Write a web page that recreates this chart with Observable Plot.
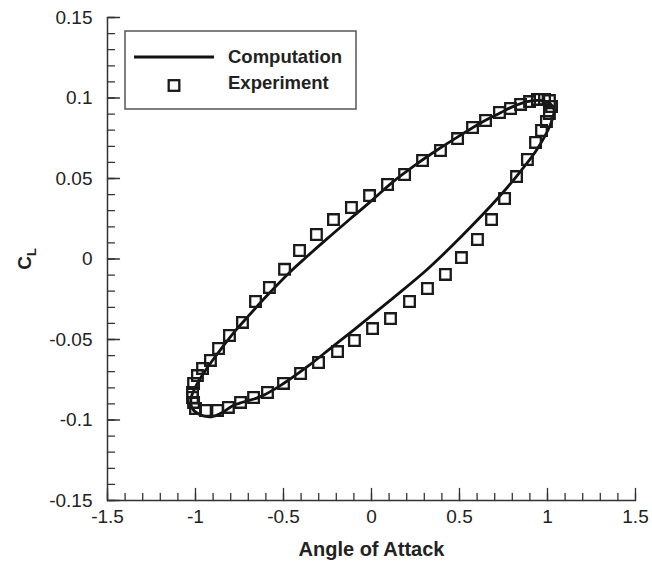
<!DOCTYPE html>
<html><head><meta charset="utf-8">
<script src="https://cdn.jsdelivr.net/npm/d3@7"></script>
<script src="https://cdn.jsdelivr.net/npm/@observablehq/plot@0.6"></script>
<style>html,body{margin:0;padding:0;background:#fff}#chart svg{display:block}</style>
</head><body><div id="chart"></div>
<script>
// Computation loop (angle of attack, C_L), closed
const compAlpha = [1.040, 1.015, 0.960, 0.885, 0.800, 0.733, 0.620, 0.500, 0.373, 0.250, 0.120, 0.004, -0.120, -0.250, -0.370, -0.460, -0.600, -0.700, -0.773, -0.849, -0.910, -0.960, -1.000, -1.025, -1.020, -0.980, -0.910, -0.850, -0.780, -0.630, -0.498, -0.365, -0.233, -0.100, 0.000, 0.108, 0.316, 0.506, 0.724, 0.847, 0.940, 1.017, 1.040];
const compCL    = [0.0920, 0.0965, 0.0985, 0.0977, 0.0945, 0.0908, 0.0845, 0.0765, 0.0677, 0.0585, 0.0478, 0.0366, 0.0250, 0.0128, 0.0012, -0.0078, -0.0235, -0.0355, -0.0445, -0.0550, -0.0640, -0.0720, -0.0795, -0.0865, -0.0925, -0.0965, -0.0980, -0.0955, -0.0907, -0.0855, -0.0772, -0.0669, -0.0555, -0.0440, -0.0352, -0.0255, -0.0065, 0.0135, 0.0385, 0.0545, 0.0680, 0.0835, 0.0920];
// Experiment points
const expAlpha = [1.023, 1.011, 0.983, 0.943, 0.898, 0.847, 0.790, 0.727, 0.648, 0.574, 0.489, 0.392, 0.290, 0.188, 0.091, -0.011, -0.114, -0.216, -0.313, -0.409, -0.494, -0.580, -0.659, -0.733, -0.807, -0.869, -0.915, -0.960, -0.989, -1.011, -1.017, -1.017, -1.011, -1.000, -0.943, -0.875, -0.813, -0.744, -0.670, -0.591, -0.500, -0.403, -0.301, -0.193, -0.097, 0.006, 0.108, 0.216, 0.318, 0.420, 0.511, 0.602, 0.682, 0.756, 0.824, 0.886, 0.932, 0.966, 0.994, 1.011];
const expCL    = [0.0947, 0.0984, 0.0991, 0.0991, 0.0978, 0.0960, 0.0935, 0.0910, 0.0860, 0.0817, 0.0748, 0.0674, 0.0612, 0.0525, 0.0463, 0.0394, 0.0320, 0.0245, 0.0152, 0.0053, -0.0064, -0.0177, -0.0264, -0.0394, -0.0475, -0.0556, -0.0630, -0.0680, -0.0724, -0.0773, -0.0829, -0.0860, -0.0891, -0.0929, -0.0941, -0.0941, -0.0922, -0.0891, -0.0860, -0.0829, -0.0773, -0.0711, -0.0643, -0.0575, -0.0506, -0.0432, -0.0370, -0.0264, -0.0183, -0.0096, 0.0009, 0.0121, 0.0245, 0.0376, 0.0512, 0.0618, 0.0724, 0.0798, 0.0854, 0.0904];
const xTicks = [-1.5, -1, -0.5, 0, 0.5, 1, 1.5];
const yTicks = [-0.15, -0.1, -0.05, 0, 0.05, 0.1, 0.15];
const xLabel = "Angle of Attack";
const yLabelMain = "C", yLabelSub = "L";
const seriesNames = ["Computation", "Experiment"];

const comp = compAlpha.map((a, i) => ({a, cl: compCL[i]}));
const expt = expAlpha.map((a, i) => ({a, cl: expCL[i]}));
const minorX = d3.range(-15, 16).map(i => i / 10);
const minorY = d3.range(-15, 16).map(i => i / 100);
const FONT = "'Liberation Sans', Arial, Helvetica, sans-serif";
const AX = "#333";
const tickShape = {draw(ctx, l) { ctx.moveTo(0, 0); ctx.lineTo(0, -l); }};

const plot = Plot.plot({
  width: 652, height: 572,
  marginLeft: 107, marginRight: 17, marginTop: 17, marginBottom: 72,
  x: {domain: [-1.5, 1.5]},
  y: {domain: [-0.15, 0.15]},
  style: {fontFamily: FONT, fontSize: "19px", color: "#222", background: "#fff", overflow: "visible"},
  marks: [
    Plot.axisX(xTicks, {tickSize: 0, tickPadding: 9, tickFormat: d => String(d), label: null, fontSize: 19, fill: "#222"}),
    Plot.axisY(yTicks, {tickSize: 0, tickPadding: 15, tickFormat: d => String(d), label: null, fontSize: 19, fill: "#222"}),
    Plot.vector(minorX, {x: d => d, y: -0.15, length: 7, rotate: 0, anchor: "start", shape: tickShape, stroke: AX, strokeWidth: 1.3}),
    Plot.vector(xTicks, {x: d => d, y: -0.15, length: 12, rotate: 0, anchor: "start", shape: tickShape, stroke: AX, strokeWidth: 1.3}),
    Plot.vector(minorY, {x: -1.5, y: d => d, length: 7, rotate: 90, anchor: "start", shape: tickShape, stroke: AX, strokeWidth: 1.3}),
    Plot.vector(yTicks, {x: -1.5, y: d => d, length: 12, rotate: 90, anchor: "start", shape: tickShape, stroke: AX, strokeWidth: 1.3}),
    Plot.ruleY([-0.15], {stroke: AX, strokeWidth: 1.5}),
    Plot.ruleX([-1.5], {stroke: AX, strokeWidth: 1.5}),
    Plot.line(comp, {x: "a", y: "cl", curve: "catmull-rom", stroke: "#111", strokeWidth: 2.8}),
    Plot.dot(expt, {x: "a", y: "cl", symbol: "square", r: 6, stroke: "#1a1a1a", strokeWidth: 2.3, fill: "none"}),
    Plot.text([xLabel], {frameAnchor: "bottom", dy: 55, fontWeight: "bold", fontSize: 20, fill: "#222"})
  ]
});
document.getElementById("chart").appendChild(plot);

const svg = d3.select(plot);
// y label C_L
const yl = svg.append("text")
  .attr("transform", "translate(31,259) rotate(-90)")
  .attr("text-anchor", "middle")
  .attr("font-family", FONT).attr("font-weight", "bold").attr("font-size", 19).attr("fill", "#222");
yl.append("tspan").text(yLabelMain);
yl.append("tspan").attr("dy", 5).attr("font-size", 13).text(yLabelSub);

// legend
const lg = svg.append("g");
lg.append("rect").attr("x", 125).attr("y", 31).attr("width", 231).attr("height", 78)
  .attr("fill", "#fff").attr("stroke", "#555").attr("stroke-width", 1.5);
lg.append("line").attr("x1", 134).attr("x2", 214).attr("y1", 57).attr("y2", 57)
  .attr("stroke", "#111").attr("stroke-width", 2.8);
lg.append("rect").attr("x", 168.7).attr("y", 80.2).attr("width", 10.6).attr("height", 10.6)
  .attr("fill", "none").attr("stroke", "#1a1a1a").attr("stroke-width", 2.3);
lg.selectAll("text.lt").data(seriesNames).join("text")
  .attr("class", "lt")
  .attr("x", 228).attr("y", (d, i) => i === 0 ? 62.5 : 89)
  .attr("text-anchor", "start")
  .attr("font-family", FONT).attr("font-weight", "bold").attr("font-size", 18.5).attr("fill", "#222")
  .text(d => d);
</script>
</body></html>
